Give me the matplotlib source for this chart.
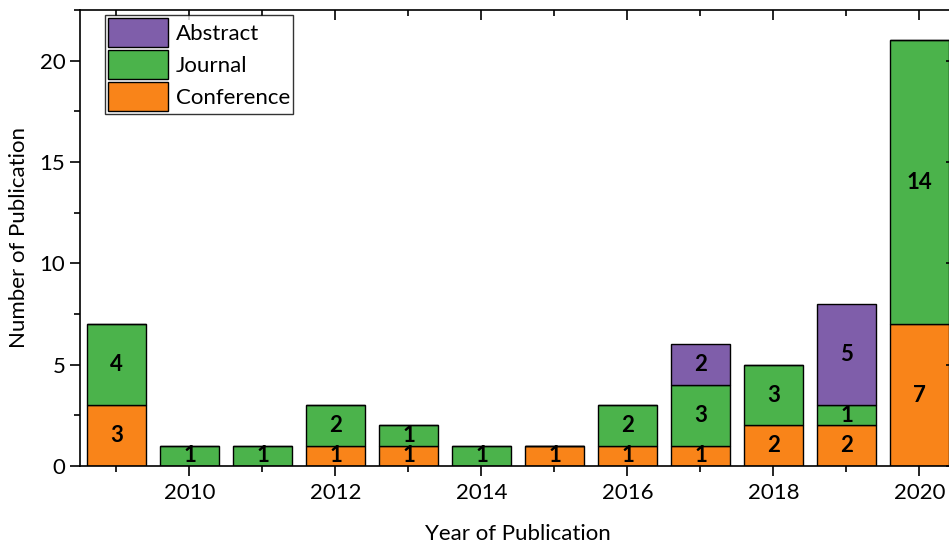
import matplotlib

matplotlib.use('Agg')

import matplotlib.pyplot as plt
from matplotlib.ticker import MultipleLocator

years = [2009, 2010, 2011, 2012, 2013, 2014, 2015, 2016, 2017, 2018, 2019, 2020]
conference = [3, 0, 0, 1, 1, 0, 1, 1, 1, 2, 2, 7]
journal = [4, 1, 1, 2, 1, 1, 0, 2, 3, 3, 1, 14]
abstract = [0, 0, 0, 0, 0, 0, 0, 0, 2, 0, 5, 0]

plt.rcParams['font.family'] = ['Lato', 'DejaVu Sans']

fig = plt.figure(figsize=(9.49, 5.45), dpi=100)
ax = fig.add_axes([80 / 949, 79 / 545, 876 / 949, 456 / 545])

w = 0.8
bottom_j = conference
bottom_a = [c + j for c, j in zip(conference, journal)]
b_conf = ax.bar(years, conference, w, color='#F98419', edgecolor='black', linewidth=1, label='Conference')
b_jour = ax.bar(years, journal, w, bottom=bottom_j, color='#4BB34B', edgecolor='black', linewidth=1, label='Journal')
b_abs = ax.bar(years, abstract, w, bottom=bottom_a, color='#7F5EAA', edgecolor='black', linewidth=1, label='Abstract')

for bars in (b_conf, b_jour, b_abs):
    for r in bars:
        h = r.get_height()
        if h > 0:
            ax.text(r.get_x() + r.get_width() / 2, r.get_y() + h / 2, str(int(h)),
                    ha='center', va='center', fontsize=16, fontweight='bold', color='black')

ax.set_xlim(2008.5, 2020.5)
ax.set_ylim(0, 22.5)
ax.xaxis.set_major_locator(MultipleLocator(2))
ax.xaxis.set_minor_locator(MultipleLocator(1))
ax.yaxis.set_major_locator(MultipleLocator(5))
ax.yaxis.set_minor_locator(MultipleLocator(2.5))
ax.tick_params(axis='both', which='major', direction='out', length=7, width=1.2, labelsize=16)
ax.tick_params(axis='both', which='minor', direction='out', length=4, width=1.2)
ax.tick_params(axis='both', which='both', top=True, right=True)
ax.tick_params(axis='x', which='both', pad=5)
for sp in ax.spines.values():
    sp.set_linewidth(1.2)

# top/right ticks point inward
for t in ax.xaxis.get_major_ticks() + ax.xaxis.get_minor_ticks():
    t.tick2line.set_marker(3)
for t in ax.yaxis.get_major_ticks() + ax.yaxis.get_minor_ticks():
    t.tick2line.set_marker(0)

ax.set_xlabel('Year of Publication', fontsize=16, labelpad=15)
ax.set_ylabel('Number of Publication', fontsize=16, labelpad=8)

h, l = ax.get_legend_handles_labels()
ax.legend(h[::-1], l[::-1], loc='upper left', bbox_to_anchor=(0.028, 0.99),
          fontsize=16, frameon=True, fancybox=False, edgecolor='black',
          handlelength=2.7, handleheight=1.65, handletextpad=0.35,
          labelspacing=0.12, borderpad=0.15, borderaxespad=0)

fig.savefig('out.png', dpi=100)
